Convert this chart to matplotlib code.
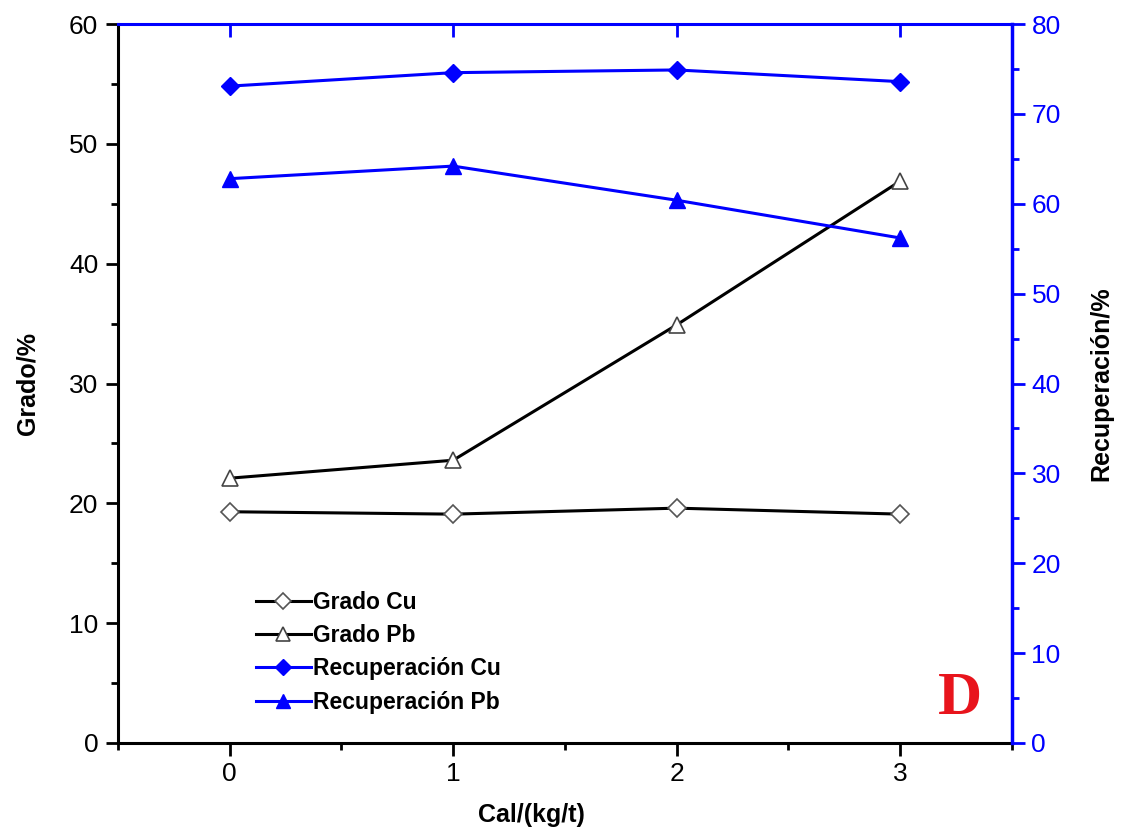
import matplotlib
matplotlib.use("Agg")
import matplotlib.pyplot as plt

plt.rcParams['font.family'] = ['Liberation Sans', 'DejaVu Sans']

cal = [0, 1, 2, 3]
grado_cu = [19.3, 19.1, 19.6, 19.1]
grado_pb = [22.1, 23.6, 34.9, 46.9]
recup_cu = [73.1, 74.6, 74.9, 73.6]
recup_pb = [62.8, 64.2, 60.4, 56.2]

blue = '#0000ff'

fig = plt.figure(figsize=(11.22, 8.32), dpi=100)
ax = fig.add_axes([0.105, 0.107, 0.797, 0.864])
ax2 = ax.twinx()

# left axis: grado
l1, = ax.plot(cal, grado_cu, color='black', lw=2.2, marker='D', markersize=9,
              markerfacecolor='white', markeredgecolor='#555555', markeredgewidth=1.2,
              label='Grado Cu')
l2, = ax.plot(cal, grado_pb, color='black', lw=2.2, marker='^', markersize=11,
              markerfacecolor='white', markeredgecolor='#444444', markeredgewidth=1.2,
              label='Grado Pb')
# right axis: recuperacion
l3, = ax2.plot(cal, recup_cu, color=blue, lw=2.2, marker='D', markersize=9,
               markerfacecolor=blue, markeredgecolor=blue, label='Recuperación Cu')
l4, = ax2.plot(cal, recup_pb, color=blue, lw=2.2, marker='^', markersize=11,
               markerfacecolor=blue, markeredgecolor=blue, label='Recuperación Pb')

ax.set_xlim(-0.5, 3.5)
ax.set_ylim(0, 60)
ax2.set_ylim(0, 80)
ax.set_xticks([0, 1, 2, 3])
ax.set_xticks([-0.5, 0.5, 1.5, 2.5, 3.5], minor=True)
ax.set_yticks(range(0, 61, 10))
ax.set_yticks(range(5, 60, 10), minor=True)
ax2.set_yticks(range(0, 81, 10))
ax2.set_yticks(range(5, 80, 10), minor=True)

for side in ['left', 'bottom']:
    ax.spines[side].set_linewidth(2.2)
    ax.spines[side].set_color('black')
ax2.spines['left'].set_visible(False)
ax2.spines['bottom'].set_visible(False)
ax2.spines['right'].set_color(blue)
ax2.spines['right'].set_linewidth(2.5)
ax2.spines['top'].set_color(blue)
ax2.spines['top'].set_linewidth(2.2)
ax.spines['top'].set_visible(False)
ax.spines['right'].set_visible(False)

ax.tick_params(axis='both', which='major', labelsize=19, length=9, width=2,
               colors='black', direction='out', pad=5)
ax.tick_params(axis='both', which='minor', length=5, width=2, direction='out')
ax.tick_params(axis='x', top=False)
ax2.tick_params(axis='y', which='major', labelsize=19, length=9, width=2,
                colors=blue, direction='out', pad=5)
ax2.tick_params(axis='y', which='minor', length=5, width=2, color=blue)

# ticks on top spine, pointing inward
sec = ax.secondary_xaxis('top')
sec.set_xticks([0, 1, 2, 3])
sec.set_xticks([-0.5, 0.5, 1.5, 2.5, 3.5], minor=True)
sec.tick_params(which='major', direction='in', length=9, width=2, color=blue,
                labeltop=False)
sec.tick_params(which='minor', direction='in', length=0)
sec.spines['top'].set_visible(False)

ax.set_xlabel('Cal/(kg/t)', fontsize=18, fontweight='bold')
ax.xaxis.set_label_coords(0.463, -0.083)
ax.set_ylabel('Grado/%', fontsize=18, fontweight='bold')
ax.yaxis.set_label_coords(-0.088, 0.5)
ax2.set_ylabel('Recuperación/%', fontsize=18, fontweight='bold', color='black')
ax2.yaxis.set_label_coords(1.087, 0.5)

ax.legend(handles=[l1, l2, l3, l4], loc='lower left', bbox_to_anchor=(0.144, 0.028),
          frameon=False, prop={'size': 16.5, 'weight': 'bold'}, handlelength=2.4,
          handletextpad=0.1, labelspacing=0.45, borderaxespad=0, markerscale=0.9)

ax.text(0.966, 0.022, 'D', transform=ax.transAxes, ha='right', va='bottom',
        fontsize=44, fontweight='bold', color='#e8141c', family='Liberation Serif')

fig.savefig('out.png', dpi=100)
